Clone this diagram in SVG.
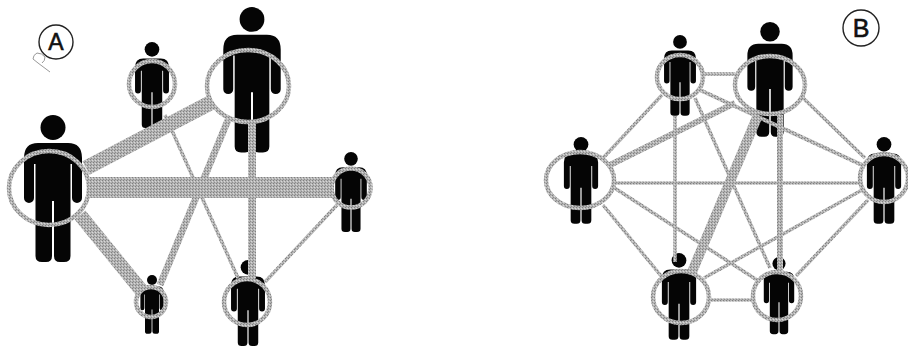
<svg xmlns="http://www.w3.org/2000/svg" width="908" height="347" viewBox="0 0 908 347">
<style>
.ring{fill:none;stroke:url(#dither);stroke-width:4.500}
.c{fill:none;stroke:url(#dither);stroke-linecap:butt}
.badge{fill:#fff;stroke:#222;stroke-width:1.4}
.lbl{font-family:"Liberation Sans",Arial,sans-serif;fill:#111;stroke:#111;stroke-width:.6;text-anchor:middle}
.p{fill:#050505}
</style>
<defs>
<pattern id="dither" patternUnits="userSpaceOnUse" width="3" height="3">
<rect width="3" height="3" fill="#b4b4b4"/>
<rect width="1" height="1" fill="#808080"/>
<rect x="2" y="1" width="1" height="1" fill="#d8d8d8"/>
<rect x="1" y="2" width="1" height="1" fill="#8e8e8e"/>
</pattern>
<g id="person" class="p">
<circle cx="0" cy="12.5" r="12.5"/>
<path d="M-15 28H15Q29 28 29 43V83a4.500 4.500 0 0 1-10 0V49H17.500V141Q17.500 147 11 147H7Q1 147 1 141V86H-1V141Q-1 147-7 147H-11Q-17.500 147-17.500 141V49H-19V83a4.500 4.500 0 0 1-10 0V43Q-29 28-15 28Z"/>
</g>
</defs>
<rect width="908" height="347" fill="#fff"/>

<g id="label-a">
<circle class="badge" cx="56" cy="42" r="17"/>
<text class="lbl" x="56" y="50" font-size="23">A</text>
<path d="M50 72L38 63L33 59Q33 55 37 53Q42 53 45 57Q45 61 42 63" fill="none" stroke="#999" stroke-width="1"/>
</g>
<g id="a-left"><use href="#person" transform="translate(53 115)"/><ellipse class="ring" cx="49" cy="188" rx="40" ry="37"/></g>
<g id="a-top-big"><use href="#person" transform="translate(252 7) scale(.99)"/><ellipse class="ring" cx="248" cy="86" rx="41" ry="36"/></g>
<g id="a-top-small"><use href="#person" transform="translate(152 42) scale(.585)"/><circle class="ring" cx="152" cy="84" r="23"/></g>
<g id="a-right"><use href="#person" transform="translate(351 152) scale(.545)"/><circle class="ring" cx="351" cy="188" r="19.500"/></g>
<g id="a-bottom-small"><use href="#person" transform="translate(152 275) scale(.4)"/><circle class="ring" cx="151" cy="302" r="15"/></g>
<g id="a-bottom"><use href="#person" transform="translate(248 260) scale(.585)"/><circle class="ring" cx="247" cy="302" r="23"/></g>

<g id="label-b">
<circle class="badge" cx="861" cy="28" r="18"/>
<text class="lbl" x="861" y="37" font-size="25">B</text>
</g>
<g id="b-left"><use href="#person" transform="translate(581 137) scale(.59)"/><ellipse class="ring" cx="580" cy="180" rx="34" ry="28"/></g>
<g id="b-top-small"><use href="#person" transform="translate(680 35) scale(.55)"/><ellipse class="ring" cx="680" cy="77" rx="23" ry="22"/></g>
<g id="b-top-big"><use href="#person" transform="translate(770 22) scale(.78)"/><ellipse class="ring" cx="770" cy="85" rx="35" ry="29"/></g>
<g id="b-right"><use href="#person" transform="translate(884 137) scale(.59)"/><circle class="ring" cx="884" cy="178" r="24"/></g>
<g id="b-bottom-left"><use href="#person" transform="translate(679 253) scale(.59)"/><ellipse class="ring" cx="681" cy="297" rx="28" ry="26"/></g>
<g id="b-bottom-right"><use href="#person" transform="translate(779 257) scale(.525)"/><circle class="ring" cx="777" cy="296" r="24"/></g>

<g id="connectors">
<path class="c" stroke-width="15" d="M86 168L212 102"/>
<path class="c" stroke-width="21" d="M90 187.500H334"/>
<path class="c" stroke-width="14" d="M80 215L141 290"/>
<path class="c" stroke-width="7" d="M228 120L160 285"/>
<path class="c" stroke-width="8" d="M252 122V278"/>
<path class="c" stroke-width="3.500" d="M165 115L238 278"/>
<path class="c" stroke-width="3.500" d="M337 205L265 282"/>

<path class="c" stroke-width="3.500" d="M603 158L662 95"/>
<path class="c" stroke-width="6" d="M610 165L735 103"/>
<path class="c" stroke-width="3.500" d="M615 183H860"/>
<path class="c" stroke-width="3.500" d="M603 205L662 277"/>
<path class="c" stroke-width="3.500" d="M613 187L757 280"/>
<path class="c" stroke-width="3.500" d="M704 74H735"/>
<path class="c" stroke-width="4" d="M700 90L862 165"/>
<path class="c" stroke-width="3.500" d="M675 116V262"/>
<path class="c" stroke-width="3.500" d="M695 98L770 268"/>
<path class="c" stroke-width="3.500" d="M802 97L865 158"/>
<path class="c" stroke-width="10" d="M758 115L692 272"/>
<path class="c" stroke-width="6" d="M780 115V270"/>
<path class="c" stroke-width="3.500" d="M862 190L704 278"/>
<path class="c" stroke-width="3.500" d="M868 200L796 276"/>
<path class="c" stroke-width="3.500" d="M710 300H752"/>
</g>
</svg>
